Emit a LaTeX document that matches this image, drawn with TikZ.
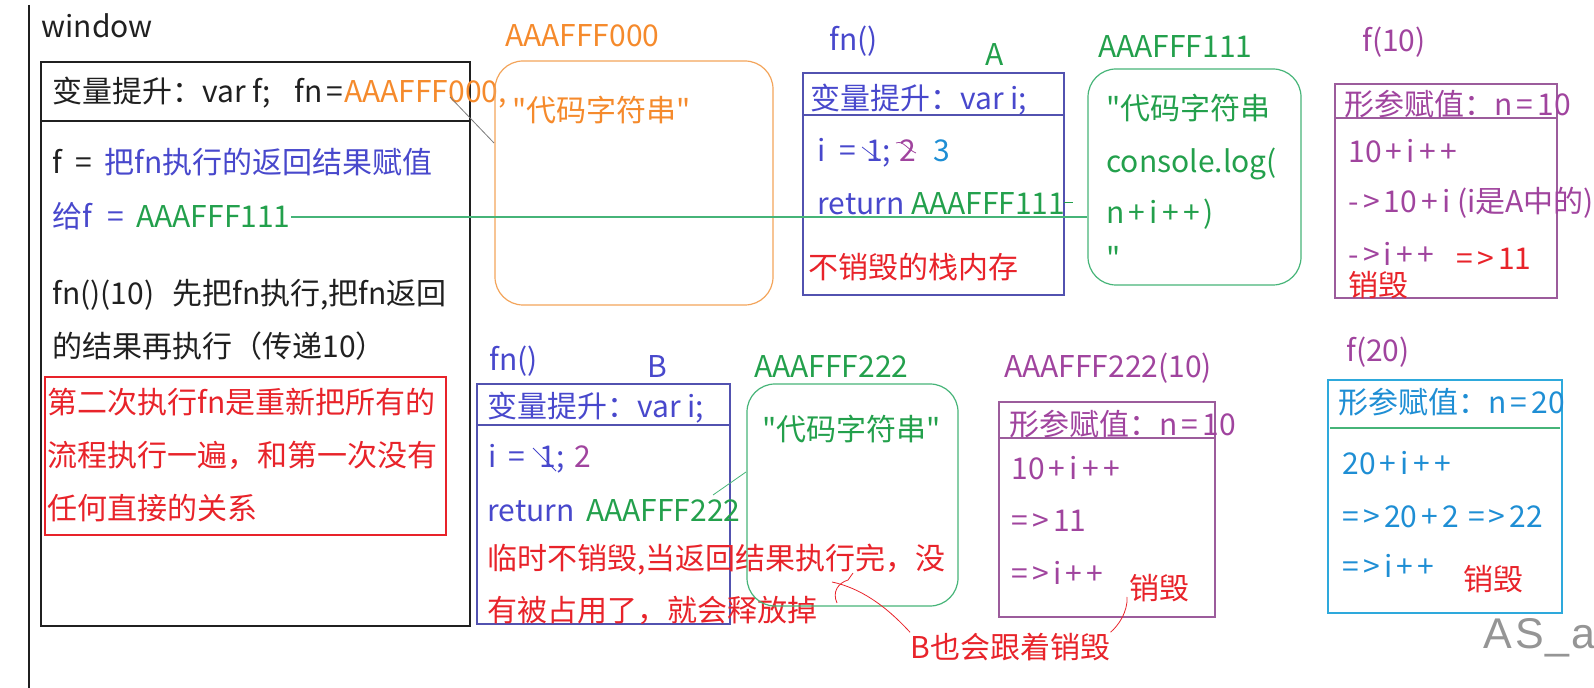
\documentclass[tikz,border=0pt]{standalone}
\usepackage{fontspec}
\setmainfont{Noto Sans CJK SC}[Ligatures=TeXOff]
\newfontfamily\markfont{Liberation Sans}
\usetikzlibrary{positioning, fit}
\definecolor{inkblack}{HTML}{202020}
\definecolor{inkblue}{HTML}{4848CC}
\definecolor{frameblue}{HTML}{5252B0}
\definecolor{inkgreen}{HTML}{23A04C}
\definecolor{framegreen}{HTML}{46B478}
\definecolor{inkorange}{HTML}{F58A2C}
\definecolor{frameorange}{HTML}{F3A45A}
\definecolor{inkred}{HTML}{E8232A}
\definecolor{inkpurple}{HTML}{A0449E}
\definecolor{framepurple}{HTML}{9C5C9C}
\definecolor{inkcyan}{HTML}{1E8ED4}
\definecolor{framecyan}{HTML}{2EA9DC}
\definecolor{inkgray}{HTML}{7A7A7A}
\newcommand\boardfont{\fontsize{15pt}{18pt}\selectfont}
\newcommand\gp{\hspace{0.14em}}

\begin{document}
\begin{tikzpicture}[
    x=0.5pt, y=-0.5pt,
    board/.style={
        anchor=base west,
        inner sep=0pt,
        font=\boardfont,
        text=inkblack
    },
    framebox/.style={
        draw,
        inner sep=0pt,
        line width=0.6pt
    },
    codebox/.style={
        draw,
        inner sep=0pt,
        rounded corners=14pt,
        line width=0.6pt
    },
    pointer/.style={
        line width=0.4pt
    }
]
    \useasboundingbox (0,0) rectangle (1594,688);
    \draw[line width=0.9pt, inkblack] (29,5) -- (29,688);

    % window
    \node[board] (windowLabel) at (41,38) {window};
    \node[framebox, line width=0.9pt, inkblack, fit={(41,62) (470,626)}] (winBox) {};
    \draw[line width=0.9pt, inkblack] (41,121) -- (470,121);
    \node[board] (winHoist) at (52,103) {变量提升：var f;\hspace{0.8em}fn\gp=};
    \node[board, text=inkorange] (winFn) at (winHoist.base east) {AAAFFF000,};
    \node[board] (winLineA) at (52,174) {f\hspace{0.43em}=\hspace{0.43em}\textcolor{inkblue}{把fn执行的返回结果赋值}};
    \node[board, text=inkblue] (winLineB) at (52,228) {给f\hspace{0.5em}=};
    \node[board, text=inkgreen, xshift=6pt] (winAddr) at (winLineB.base east) {AAAFFF111};
    \node[board] (winLineC) at (52,305) {fn()(10)\hspace{0.6em}先把fn执行,把fn返回};
    \node[board] (winLineD) at (52,358) {的结果再执行（传递10）};
    \node[framebox, inkred, fit={(45,377) (446,535)}] (noteBox) {};
    \node[board, text=inkred] (noteA) at (47,414) {第二次执行fn是重新把所有的};
    \node[board, text=inkred] (noteB) at (47,467) {流程执行一遍，和第一次没有};
    \node[board, text=inkred] (noteC) at (47,520) {任何直接的关系};

    % AAAFFF000
    \node[board, text=inkorange] (zeroLabel) at (505,47) {AAAFFF000};
    \node[codebox, frameorange, fit={(495,61) (773,305)}] (zeroHeap) {};
    \node[board, text=inkorange] (zeroCode) at (512,122) {"代码字符串"};
    \coordinate (zeroTick) at (450,97);
    \coordinate (zeroEdge) at (494,143);
    \draw[pointer, inkgray] (zeroTick) -- (zeroEdge);

    % fn() A
    \node[board, text=inkblue] (fnALabel) at (829,51) {fn()};
    \node[board, text=inkgreen] (stackALabel) at (985,66) {A};
    \node[framebox, frameblue, fit={(803,73) (1064,295)}] (stackA) {};
    \draw[line width=0.6pt, frameblue] (803,115) -- (1064,115);
    \node[board, text=inkblue] (stackAHoist) at (810,110) {变量提升：var i;};
    \node[board, text=inkblue] (stackAVar) at (817,162) {i\hspace{0.47em}=\hspace{0.33em}1;\hspace{0.27em}\textcolor{inkpurple}{2}\hspace{0.57em}\textcolor{inkcyan}{3}};
    \draw[pointer, inkblue] (862,147) -- (879,160);
    \draw[pointer, inkpurple] (896,143) .. controls (903,140) and (908,150) .. (916,153);
    \node[board, text=inkblue] (stackARet) at (817,215) {return \textcolor{inkgreen}{AAAFFF111}};
    \draw[pointer, inkgreen] (1064,202) -- (1073,202);
    \node[board, text=inkred] (stackAKeep) at (808,279) {不销毁的栈内存};

    % AAAFFF111
    \node[board, text=inkgreen] (oneLabel) at (1098,58) {AAAFFF111};
    \node[codebox, framegreen, fit={(1088,69) (1301,285)}] (oneHeap) {};
    \node[board, text=inkgreen] (oneCodeA) at (1106,120) {"代码字符串};
    \node[board, text=inkgreen] (oneCodeB) at (1106,173) {console.log(};
    \node[board, text=inkgreen] (oneCodeC) at (1106,224) {n\gp+\gp i\gp+\gp+\gp)};
    \node[board, text=inkgreen] (oneCodeD) at (1106,270) {"};
    \draw[pointer, line width=0.6pt, framegreen] (winAddr.east) -- (winAddr.east -| oneHeap.west);

    % f(10)
    \node[board, text=inkpurple] (tenLabel) at (1362,52) {f(10)};
    \node[framebox, framepurple, fit={(1335,84) (1557,298)}] (tenCall) {};
    \draw[line width=0.6pt, framepurple] (1335,118) -- (1557,118);
    \node[board, text=inkpurple] (tenArg) at (1344,116) {形参赋值：n\gp=\gp 10};
    \node[board, text=inkpurple] (tenStepA) at (1348,163) {10\gp+\gp i\gp+\gp+};
    \node[board, text=inkpurple] (tenStepB) at (1348,213) {-\gp>\gp 10\gp+\gp i (i是A中的)};
    \node[board, text=inkpurple] (tenStepC) at (1348,266) {-\gp>\gp i\gp+\gp+};
    \node[board, text=inkred] (tenValue) at (1456,270) {=\gp>\gp 11};
    \node[board, text=inkred] (tenFree) at (1348,297) {销毁};

    % fn() B
    \node[board, text=inkblue] (fnBLabel) at (489,371) {fn()};
    \node[board, text=inkblue] (stackBLabel) at (647,378) {B};
    \node[framebox, frameblue, fit={(477,384) (730,624)}] (stackB) {};
    \draw[line width=0.6pt, frameblue] (477,425) -- (730,425);
    \node[board, text=inkblue] (stackBHoist) at (487,418) {变量提升：var i;};
    \node[board, text=inkblue] (stackBVar) at (488,468) {i\hspace{0.4em}=\hspace{0.47em}1;\hspace{0.33em}\textcolor{inkpurple}{2}};
    \draw[pointer, inkblue] (533,448) -- (556,471);
    \node[board, text=inkblue] (stackBRet) at (487,522) {return\hspace{0.4em}\textcolor{inkgreen}{AAAFFF222}};
    \node[board, text=inkred] (stackBTempA) at (487,570) {临时不销毁,当返回结果执行完，没};
    \node[board, text=inkred] (stackBTempB) at (487,622) {有被占用了，就会释放掉};

    % AAAFFF222
    \node[board, text=inkgreen] (twoLabel) at (754,378) {AAAFFF222};
    \node[codebox, framegreen, fit={(747,384) (958,606)}] (twoHeap) {};
    \node[board, text=inkgreen] (twoCode) at (762,441) {"代码字符串"};
    \coordinate (twoTick) at (713,495);
    \coordinate (twoEdge) at (746,472);
    \draw[pointer, framegreen] (twoTick) -- (twoEdge);

    % AAAFFF222(10)
    \node[board, text=inkpurple] (twoTenLabel) at (1004,378) {AAAFFF222(10)};
    \node[framebox, framepurple, fit={(999,402) (1215,617)}] (twoTenCall) {};
    \draw[line width=0.6pt, framepurple] (999,438) -- (1215,438);
    \node[board, text=inkpurple] (twoTenArg) at (1009,436) {形参赋值：n\gp=\gp 10};
    \node[board, text=inkpurple] (twoTenStepA) at (1011,480) {10\gp+\gp i\gp+\gp+};
    \node[board, text=inkpurple] (twoTenStepB) at (1011,532) {=\gp>\gp 11};
    \node[board, text=inkpurple] (twoTenStepC) at (1011,585) {=\gp>\gp i\gp+\gp+};
    \node[board, text=inkred] (twoTenFree) at (1129,600) {销毁};

    % f(20)
    \node[board, text=inkpurple] (twentyLabel) at (1346,362) {f(20)};
    \node[framebox, framecyan, fit={(1328,380) (1562,613)}] (twentyCall) {};
    \draw[line width=0.6pt, framegreen] (1330,428) -- (1560,428);
    \node[board, text=inkcyan] (twentyArg) at (1338,414) {形参赋值：n\gp=\gp 20};
    \node[board, text=inkcyan] (twentyStepA) at (1342,475) {20\gp+\gp i\gp+\gp+};
    \node[board, text=inkcyan] (twentyStepB) at (1342,528) {=\gp>\gp 20\gp+\gp 2\hspace{0.3em}=\gp>\gp 22};
    \node[board, text=inkcyan] (twentyStepC) at (1342,578) {=\gp>\gp i\gp+\gp+};
    \node[board, text=inkred] (twentyFree) at (1463,590) {销毁};

    % B also freed
    \node[board, text=inkred] (alsoFree) at (910,658) {B也会跟着销毁};
    \coordinate (alsoTip) at (832,582);
    \draw[pointer, inkred] (alsoFree.north west) .. controls (885,605) and (860,588) .. (alsoTip);
    \draw[pointer, inkred] (837,603) .. controls (832,592) and (838,583) .. (848,580) -- (853,573);
    \draw[pointer, inkred] (alsoFree.north east) .. controls (1118,626) and (1128,612) .. (1127,597);

    \node[board, font=\markfont\fontsize{21.5pt}{24pt}\selectfont, text=inkgray!80] (mark) at (1483,648) {A\kern1.5pt S\kern1pt\_\kern1pt a};
\end{tikzpicture}
\end{document}
